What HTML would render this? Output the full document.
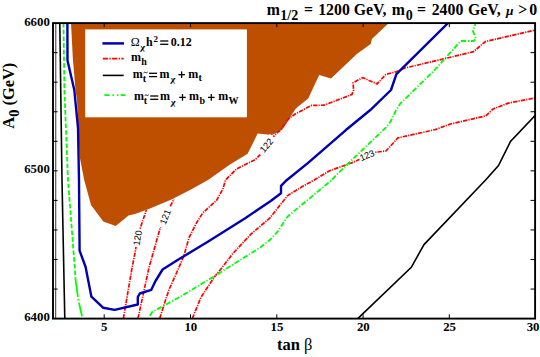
<!DOCTYPE html>
<html><head><meta charset="utf-8">
<style>
html,body{margin:0;padding:0;background:#fff;}
body{width:540px;height:357px;overflow:hidden;font-family:"Liberation Serif",serif;}
svg{display:block}
text{font-family:"Liberation Serif",serif;font-weight:bold;fill:#000}
</style></head><body>
<svg width="540" height="357" viewBox="0 0 540 357">
<rect width="540" height="357" fill="#fff"/>
<defs><clipPath id="cp"><rect x="53" y="23" width="482.5" height="295.4"/></clipPath></defs>
<g clip-path="url(#cp)">
<!-- brown region -->
<path id="brown" fill="#bf4f00" d="M71,23 L72.8,58 L75.5,90 L77,100 L78.8,140 L79.7,157 L84.2,180 L91,205 L103.3,221.5 L115.7,226 L128.5,215.5 L135,214 L150,208.5 L172,199.3 L190,190 L208,180 L230,164.6 L247.6,153.7 L257.7,133.5 L272,134.9 L282.4,129.5 L290.8,116.3 L295.8,108.5 L308.2,98.4 L319.2,75.1 L331,78.5 L356.8,54 L370.7,44 L371.9,38.9 L388.8,23 Z"/>
<!-- red contours -->
<g fill="none" stroke="#ff0000" stroke-width="1.7" stroke-dasharray="4.4 1.1 1.2 1.1">
<path d="M123.4,318.4 L132.2,267 L135,253 L137.5,238 L140,229 L146.3,210"/>
<path d="M138,318.4 L148.9,268 L160.2,228 L165.2,216.5 L174,199"/>
<path d="M159.7,318.4 L164,304.8 L169,289.7 L178.5,268.5 L183.9,255.7 L188.9,238 L196.5,222.9 L202.8,212.9 L216.6,200.3 L222.9,188.9 L225.5,180 L236.7,168.8 L246.8,163.8 L255.2,159.6 L261.1,153.7 L274.5,135.2 L280.4,130.2 L288.9,118.5 L295.2,114 L311.6,105.4 L324,105.2 L351.9,94.5 L353.6,90 L353.1,82.7 L362.7,77.6 L377,83.9 L385.9,74.4 L396,71.8 L405,68 L445.3,58.5 L473.6,51.6 L485.4,41.5 L534.5,30.2"/>
<path d="M192.4,318.4 L201,297.2 L214.3,277.1 L221.3,268.5 L233.2,253.1 L250.9,234.2 L270,217.8 L287.6,195.6 L302.7,186.3 L314.3,180 L330,170.6 L353.1,162.3 L365.7,156.5 L374,152.4 L385.9,151 L398,137.8 L409,135.4 L435.2,129.6 L450.3,124 L485.6,116 L493.2,108.9 L508.3,103.1 L534.7,98"/>
</g>
<!-- contour labels -->
<g style="font-family:'Liberation Sans',sans-serif;font-weight:normal" font-size="9.2" text-anchor="middle">
<g transform="translate(137.5,238) rotate(-81)"><rect x="-9" y="-4.5" width="18" height="9" fill="#fff"/><text y="3.3" style="font-family:'Liberation Sans',sans-serif;font-weight:normal">120</text></g>
<g transform="translate(165.2,217) rotate(-69)"><rect x="-11" y="-4.5" width="22" height="9" fill="#fff"/><text y="3.3" style="font-family:'Liberation Sans',sans-serif;font-weight:normal">121</text></g>
<g transform="translate(266.3,145.3) rotate(-50)"><rect x="-11" y="-4.5" width="22" height="9" fill="#fff"/><text y="3.3" style="font-family:'Liberation Sans',sans-serif;font-weight:normal">122</text></g>
<g transform="translate(367,155.3) rotate(-22)"><rect x="-8.5" y="-4.5" width="17" height="9" fill="#fff"/><text y="3.3" style="font-family:'Liberation Sans',sans-serif;font-weight:normal">123</text></g>
</g>
<!-- green -->
<g fill="none" stroke="#00ff00" stroke-width="1.8">
<path stroke-dasharray="4.6 2.1" d="M63.5,23 L64.4,90 L68,180 L74.8,268 L75.6,280"/>
<path stroke-dasharray="17 2 1.6 2.3 14 2 1.6 2.3" d="M75.6,280 L78.3,299.8 L82.5,318.4"/>
<path stroke-dasharray="5.2 1.8 1.2 1.8" d="M149.9,315.8 L152.2,312 L180,296.9 L215.6,275.4 L260,247.6 L270,239.8 L277.6,231.7 L287.6,216.5 L331.8,180 L336.7,174.6 L360.3,151.9 L386,127.5 L390.5,121.7 L396,110.3 L400.3,103.6 L433.9,70.8 L460.7,41 L473.6,41 L476.1,38.7 L472.8,30.9 L475.6,23.2"/>
</g>
<!-- black -->
<g fill="none" stroke="#000">
<path stroke-width="0.8" d="M55.8,23 L55.7,318.4"/>
<path stroke-width="1.6" d="M59.8,23 L62,180 L64,280 L64.8,318.4"/>
<path stroke-width="1.6" d="M358,318.4 L411.3,267.3 L424,244.6 L485.6,180 L498.5,165.5 L510.5,141.5 L535.5,115"/>
</g>
<!-- blue -->
<path fill="none" stroke="#0000b2" stroke-width="2.4" stroke-linejoin="round" d="M67.4,23 L67.5,60.5 L74.3,90 L78,127.8 L79,180 L79.6,250.6 L85.6,267 L91.4,296.7 L103.3,307.8 L114.6,309.9 L137.8,304.5 L137.8,297 L139.8,293.5 L151.3,289.8 L155.5,281 L162.6,269.5 L177.6,260 L207.8,241.8 L245.6,217.9 L270,201.5 L281,193.2 L281,185.8 L286.6,180.2 L307.8,163.1 L345.6,130.3 L370,110.3 L391,90 L396.4,74.2 L447.6,23.5"/>
</g>
<!-- legend -->
<rect x="85.2" y="29.4" width="161.7" height="87.9" fill="#fff"/>
<line x1="102.4" y1="43.4" x2="124" y2="43.4" stroke="#0000b2" stroke-width="2.5"/>
<line x1="102.8" y1="58.7" x2="123.7" y2="58.7" stroke="#ff0000" stroke-width="1.7" stroke-dasharray="5.3 1.3 1.4 1.3"/>
<line x1="102.8" y1="75.4" x2="123.7" y2="75.4" stroke="#000" stroke-width="1.6"/>
<line x1="104.4" y1="95.2" x2="125.2" y2="95.2" stroke="#00ff00" stroke-width="1.7" stroke-dasharray="5.2 2.8 1.6 2.8 1.6 2.3"/>
<g font-size="12">
<text y="46.3"><tspan x="130.8" font-weight="normal">Ω</tspan><tspan x="146">h</tspan><tspan x="153.4" dy="-4.5" font-size="9">2</tspan><tspan x="170.8" dy="4.5">0.12</tspan></text>
<text transform="translate(139.9,50) scale(1.22,1) skewX(-5)" font-size="8.6" font-weight="normal">χ</text><rect x="160.2" y="40.35" width="8.1" height="1.3"/><rect x="160.2" y="43.65" width="8.1" height="1.3"/>
<text y="61.1"><tspan x="130.9">m</tspan><tspan x="141.2" dy="3.6" font-size="10">h</tspan></text>
<text y="77.6"><tspan x="132.8">m</tspan><tspan x="142.7" dy="4" font-size="10">t</tspan><tspan x="159.5" dy="-4">m</tspan><tspan x="188.2">m</tspan><tspan x="198.4" dy="3.6" font-size="10">t</tspan></text>
<text transform="translate(170.2,81.8) scale(1.22,1) skewX(-5)" font-size="8.6" font-weight="normal">χ</text><rect x="149.0" y="72.65" width="8.1" height="1.3"/><rect x="149.0" y="75.95" width="8.1" height="1.3"/>
<rect x="178.30" y="74.05" width="6.6" height="1.3"/><rect x="180.95" y="71.40" width="1.3" height="6.6"/>
<path d="M143.6,72.9 q1,-1.1 2,-0.4 t2,-0.4" fill="none" stroke="#000" stroke-width="0.9"/>
<text y="100.3"><tspan x="134">m</tspan><tspan x="143.8" dy="4" font-size="10">t</tspan><tspan x="160" dy="-4">m</tspan><tspan x="188.9">m</tspan><tspan x="199.6" dy="3.6" font-size="10">b</tspan><tspan x="218.2" dy="-3.6">m</tspan><tspan x="228.4" dy="3.6" font-size="10">W</tspan></text>
<text transform="translate(170.6,104.5) scale(1.22,1) skewX(-5)" font-size="8.6" font-weight="normal">χ</text><rect x="150.2" y="95.35" width="8.1" height="1.3"/><rect x="150.2" y="98.65" width="8.1" height="1.3"/>
<rect x="179.20" y="96.75" width="6.6" height="1.3"/><rect x="181.85" y="94.10" width="1.3" height="6.6"/><rect x="208.00" y="96.75" width="6.6" height="1.3"/><rect x="210.65" y="94.10" width="1.3" height="6.6"/>
<path d="M144.7,95.6 q1,-1.1 2,-0.4 t2,-0.4" fill="none" stroke="#000" stroke-width="0.9"/>
</g>
<!-- frame -->
<rect x="53" y="23.1" width="482.1" height="295.5" fill="none" stroke="#000" stroke-width="1.9"/>
<!-- ticks -->
<g stroke="#000" stroke-width="1">
<path d="M104.2,318.6v-4.3 M190.5,318.6v-4.3 M276.8,318.6v-4.3 M363.1,318.6v-4.3 M449.3,318.6v-4.3"/>
<path d="M104.2,23.1v4 M190.5,23.1v4 M276.8,23.1v4 M363.1,23.1v4 M449.3,23.1v4"/>
<path d="M53,52.65h4.6 M53,82.2h4.6 M53,111.75h4.6 M53,141.3h4.6 M53,170.85h4.6 M53,200.4h4.6 M53,229.95h4.6 M53,259.5h4.6 M53,289.05h4.6"/>
<path d="M535.3,52.65h-4.8 M535.3,82.2h-4.8 M535.3,111.75h-4.8 M535.3,141.3h-4.8 M535.3,170.85h-4.8 M535.3,200.4h-4.8 M535.3,229.95h-4.8 M535.3,259.5h-4.8 M535.3,289.05h-4.8"/>
</g>
<!-- tick labels -->
<g font-size="12.8" text-anchor="end">
<text x="49.8" y="25.6">6600</text>
<text x="49.8" y="173.4">6500</text>
<text x="49.8" y="321.3">6400</text>
</g>
<g font-size="12.8" text-anchor="middle">
<text x="104.3" y="330.7">5</text>
<text x="190.8" y="330.7">10</text>
<text x="277" y="330.7">15</text>
<text x="363.3" y="330.7">20</text>
<text x="449.6" y="330.7">25</text>
<text x="533.1" y="330.7">30</text>
</g>
<text x="277" y="350.4" font-size="16.5">tan <tspan font-weight="normal">β</tspan></text>
<text transform="translate(14,128.7) rotate(-90)" font-size="16.4">A<tspan dy="5" font-size="14.5">0</tspan><tspan dy="-5"> (GeV)</tspan></text>
<g font-size="15.8">
<text y="14.6"><tspan x="266.8">m</tspan><tspan x="280.3" dy="5" font-size="14">1/2</tspan><tspan x="303.9" dy="-5">=</tspan><tspan x="318.2">1200</tspan><tspan x="353.8">GeV,</tspan><tspan x="391.8">m</tspan><tspan x="405.7" dy="5" font-size="14">0</tspan><tspan x="417" dy="-5">=</tspan><tspan x="431.7">2400</tspan><tspan x="468">GeV,</tspan><tspan x="506" font-style="italic" font-size="13.5">μ</tspan><tspan x="518.3">&gt;</tspan><tspan x="529.2">0</tspan></text>
</g>
</svg>
</body></html>
